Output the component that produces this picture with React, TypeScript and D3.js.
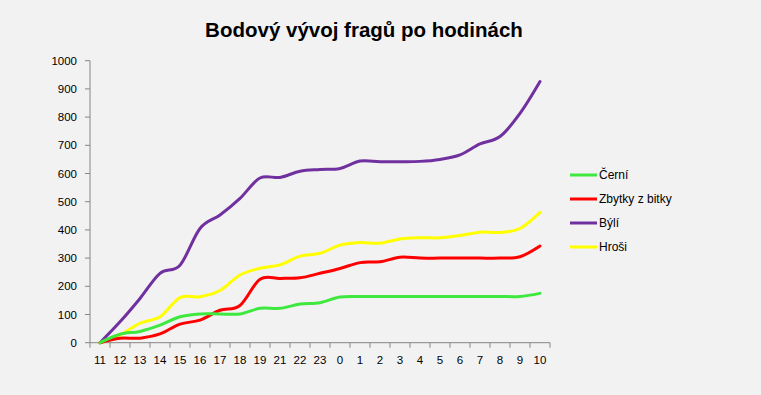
import React from "react";
import * as d3 from "d3";

const hours = ["11","12","13","14","15","16","17","18","19","21","22","23","0","1","2","3","4","5","6","7","8","9","10"];
const cerni = [0,30,40,62,92,102,102,102,122,122,137,142,162,164,164,164,164,164,164,164,164,164,175];
const zbytky = [0,16,16,31,66,80,115,132,225,228,230,246,263,284,287,303,300,300,300,300,300,305,343];
const byli = [0,74,157,246,275,405,453,512,584,586,608,614,618,644,642,642,643,650,666,705,731,813,926];
const hrosi = [0,27,69,92,160,163,185,240,264,276,307,317,346,355,353,368,372,372,380,392,391,405,462];
const yTicks = [0,100,200,300,400,500,600,700,800,900,1000];

const series = [
  { name: "Černí", values: cerni, color: "#3ee83e" },
  { name: "Zbytky z bitky", values: zbytky, color: "#ff0000" },
  { name: "Býlí", values: byli, color: "#7030a0" },
  { name: "Hroši", values: hrosi, color: "#ffff00" },
];

const W = 761, H = 395;
const plot = { left: 90, right: 550, top: 60.7, bottom: 342.7 };

export default function App() {
  const x = d3.scaleBand<string>().domain(hours).range([plot.left, plot.right]);
  const y = d3.scaleLinear().domain([0, 1000]).range([plot.bottom, plot.top]);
  const line = d3
    .line<number>()
    .x((_, i) => (x(hours[i]) as number) + x.bandwidth() / 2)
    .y((d) => y(d))
    .curve(d3.curveCatmullRom.alpha(0));
  const font = "'Liberation Sans', Arial, sans-serif";
  const drawOrder = [2, 3, 1, 0];
  return (
    <svg width={W} height={H} style={{ position: "fixed", left: 0, top: 0 }} fontFamily={font}>
      <rect x={0} y={0} width={W} height={H} fill="#f2f2f2" />
      <text x={364} y={37} textAnchor="middle" fontSize={20.5} fontWeight="bold" fill="#000">
        Bodový vývoj fragů po hodinách
      </text>
      {/* y axis */}
      <line x1={plot.left} x2={plot.left} y1={plot.top} y2={plot.bottom} stroke="#868686" />
      {yTicks.map((t) => (
        <g key={t}>
          <line x1={plot.left - 5} x2={plot.left} y1={y(t)} y2={y(t)} stroke="#868686" />
          <text x={77} y={y(t)} dy="0.35em" textAnchor="end" fontSize={11.5} fill="#000">
            {t}
          </text>
        </g>
      ))}
      {/* x axis */}
      <line x1={plot.left} x2={plot.right} y1={plot.bottom} y2={plot.bottom} stroke="#868686" />
      {hours.map((h, i) => (
        <g key={h}>
          <line
            x1={(x(h) as number)}
            x2={(x(h) as number)}
            y1={plot.bottom}
            y2={plot.bottom + 5}
            stroke="#868686"
          />
          <text
            x={(x(h) as number) + x.bandwidth() / 2}
            y={360}
            dy="0.35em"
            textAnchor="middle"
            fontSize={11.5}
            fill="#000"
          >
            {h}
          </text>
        </g>
      ))}
      <line x1={plot.right} x2={plot.right} y1={plot.bottom} y2={plot.bottom + 5} stroke="#868686" />
      {drawOrder.map((k) => (
        <path
          key={series[k].name}
          d={line(series[k].values) || ""}
          fill="none"
          stroke={series[k].color}
          strokeWidth={3}
          strokeLinecap="round"
        />
      ))}
      {/* legend */}
      {series.map((s, i) => (
        <g key={s.name} transform={`translate(570, ${175 + i * 24})`}>
          <line x1={0} x2={27} y1={0} y2={0} stroke={s.color} strokeWidth={3} />
          <text x={29} y={0} dy="0.35em" fontSize={12} fill="#000">
            {s.name}
          </text>
        </g>
      ))}
    </svg>
  );
}
